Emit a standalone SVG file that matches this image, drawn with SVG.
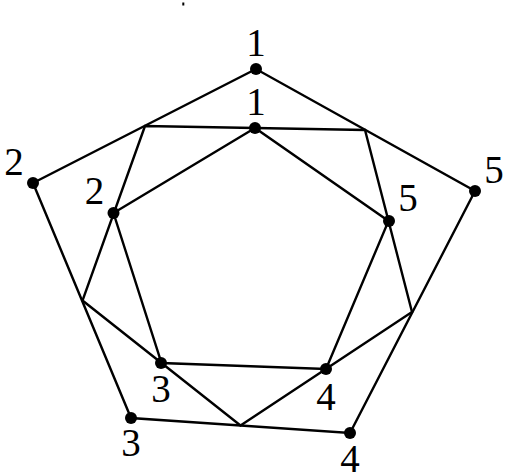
<svg xmlns="http://www.w3.org/2000/svg" width="508" height="475" viewBox="0 0 508 475">
<style>
.e{fill:none;stroke:#000;stroke-width:2.4;stroke-linejoin:miter}
.d{fill:#000}
.t{font-family:"Liberation Serif","DejaVu Serif",serif;font-size:39px;fill:#000;text-anchor:middle}
</style>
<rect x="0" y="0" width="508" height="475" fill="#fff"/>
<rect x="182.3" y="2.5" width="2" height="3" fill="#000"/>
<g id="connectors">
<polygon class="e" points="256,69 33,183 131,418 350,433 475,191"/>
<polygon class="e" points="145,126 82.5,300.5 240.5,425.5 412,312 365,130"/>
<polygon class="e" points="255,128 113.5,213 161.5,363 326,369 388.5,221"/>
</g>
<g id="outer1"><circle class="d" cx="256" cy="69" r="6"/><text class="t" x="256" y="56">1</text></g>
<g id="outer2"><circle class="d" cx="33" cy="183" r="6"/><text class="t" x="14" y="175">2</text></g>
<g id="outer3"><circle class="d" cx="131" cy="418" r="6"/><text class="t" x="131" y="456">3</text></g>
<g id="outer4"><circle class="d" cx="350" cy="433" r="6"/><text class="t" x="350" y="472">4</text></g>
<g id="outer5"><circle class="d" cx="475" cy="191" r="6"/><text class="t" x="494" y="183">5</text></g>
<g id="inner1"><circle class="d" cx="255" cy="128" r="6"/><text class="t" x="256" y="115">1</text></g>
<g id="inner2"><circle class="d" cx="113.5" cy="213" r="6"/><text class="t" x="94.5" y="204">2</text></g>
<g id="inner3"><circle class="d" cx="161" cy="363" r="6"/><text class="t" x="161" y="402">3</text></g>
<g id="inner4"><circle class="d" cx="326" cy="369" r="6"/><text class="t" x="326" y="410">4</text></g>
<g id="inner5"><circle class="d" cx="389" cy="221" r="6"/><text class="t" x="408" y="211">5</text></g>
</svg>
